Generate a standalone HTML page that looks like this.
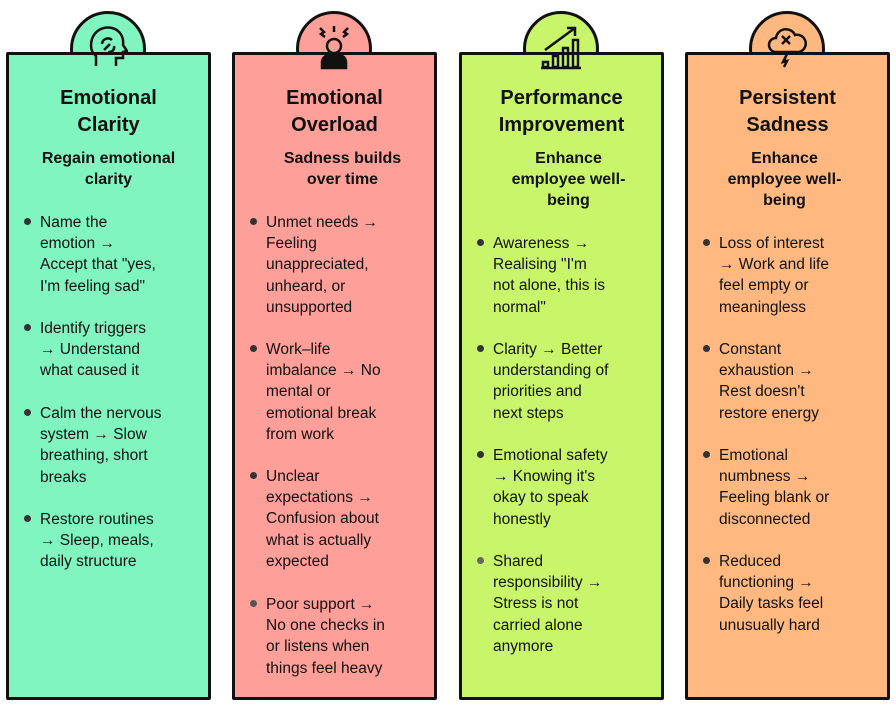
<!DOCTYPE html>
<html><head><meta charset="utf-8"><style>
body{margin:0;width:896px;height:711px;background:#fff;position:relative;overflow:hidden;font-family:"Liberation Sans",sans-serif;color:#111}
.card{position:absolute;top:52px;width:205px;height:648px;border:3px solid #111;box-sizing:border-box;border-radius:2px}
.tab{position:absolute;top:11px;width:76px;height:76px;border:3px solid #111;border-radius:50%;box-sizing:border-box}
.cov{position:absolute;top:55px;width:70px;height:14px}
.t{position:absolute;width:205px;text-align:center;font-weight:bold;font-size:20px;line-height:27px;top:85px}
.s{position:absolute;width:205px;text-align:center;font-weight:bold;font-size:16px;line-height:21px;top:148px}
.b{position:absolute;font-size:15.5px;line-height:21.2px;white-space:nowrap}
.d{position:absolute;width:7px;height:7px;border-radius:50%;background:#333}
svg.ic{position:absolute;top:24px}
</style></head><body>
<!-- card 1 -->
<div class="tab" style="left:70px;background:#80f5c0"></div>
<div class="card" style="left:6px;background:#80f5c0"></div>
<div class="cov" style="left:73px;background:#80f5c0"></div>
<svg class="ic" style="left:88px" width="40" height="44" viewBox="0 0 40 44" fill="none" stroke="#111" stroke-width="2.5"><path d="M8 42V32C3 28 2 22 4 15 7 6 16 2 24 4c8 2 12 9 11 17l4 6-4 1v6h-7v8"/><path d="M14 20a6 6 0 0 1 10-4M16 26l6-6M26 22a5 5 0 0 1-6 6"/></svg>
<div class="t" style="left:6px">Emotional<br>Clarity</div>
<div class="s" style="left:6px">Regain emotional<br>clarity</div>
<div class="d" style="left:24px;top:218px"></div>
<div class="b" style="left:40px;top:212px">Name the<br>emotion →<br>Accept that "yes,<br>I'm feeling sad"</div>
<div class="d" style="left:24px;top:324px"></div>
<div class="b" style="left:40px;top:318px">Identify triggers<br>→ Understand<br>what caused it</div>
<div class="d" style="left:24px;top:409px"></div>
<div class="b" style="left:40px;top:403px">Calm the nervous<br>system → Slow<br>breathing, short<br>breaks</div>
<div class="d" style="left:24px;top:515px"></div>
<div class="b" style="left:40px;top:509px">Restore routines<br>→ Sleep, meals,<br>daily structure</div>
<!-- card 2 -->
<div class="tab" style="left:296px;background:#ff9f9a"></div>
<div class="card" style="left:232px;background:#ff9f9a"></div>
<div class="cov" style="left:299px;background:#ff9f9a"></div>
<svg class="ic" style="left:314px" width="40" height="46" viewBox="0 0 40 46" fill="none" stroke="#111" stroke-width="2.5"><path d="M6 4l4 4-3 2 4 3M34 4l-4 4 3 2-4 3M20 2v6"/><circle cx="20" cy="22" r="7"/><path d="M8 44v-6c0-5 5-8 12-8s12 3 12 8v6z" fill="#111"/></svg>
<div class="t" style="left:232px">Emotional<br>Overload</div>
<div class="s" style="left:240px">Sadness builds<br>over time</div>
<div class="d" style="left:250px;top:218px"></div>
<div class="b" style="left:266px;top:212px">Unmet needs →<br>Feeling<br>unappreciated,<br>unheard, or<br>unsupported</div>
<div class="d" style="left:250px;top:345px"></div>
<div class="b" style="left:266px;top:339px">Work–life<br>imbalance → No<br>mental or<br>emotional break<br>from work</div>
<div class="d" style="left:250px;top:472px"></div>
<div class="b" style="left:266px;top:466px">Unclear<br>expectations →<br>Confusion about<br>what is actually<br>expected</div>
<div class="d" style="left:250px;top:600px;background:#555"></div>
<div class="b" style="left:266px;top:594px">Poor support →<br>No one checks in<br>or listens when<br>things feel heavy</div>
<!-- card 3 -->
<div class="tab" style="left:523px;background:#c8f56a"></div>
<div class="card" style="left:459px;background:#c8f56a"></div>
<div class="cov" style="left:526px;background:#c8f56a"></div>
<svg class="ic" style="left:539px" width="44" height="46" viewBox="0 0 44 46" fill="none" stroke="#111" stroke-width="2.5"><path d="M6 26L36 4M28 4h8v8"/><rect x="4" y="38" width="5" height="5"/><rect x="14" y="32" width="5" height="11"/><rect x="24" y="24" width="5" height="19"/><rect x="34" y="16" width="5" height="27"/><path d="M2 44h40"/></svg>
<div class="t" style="left:459px">Performance<br>Improvement</div>
<div class="s" style="left:466px">Enhance<br>employee well-<br>being</div>
<div class="d" style="left:477px;top:239px"></div>
<div class="b" style="left:493px;top:233px">Awareness →<br>Realising "I'm<br>not alone, this is<br>normal"</div>
<div class="d" style="left:477px;top:345px"></div>
<div class="b" style="left:493px;top:339px">Clarity → Better<br>understanding of<br>priorities and<br>next steps</div>
<div class="d" style="left:477px;top:451px"></div>
<div class="b" style="left:493px;top:445px">Emotional safety<br>→ Knowing it's<br>okay to speak<br>honestly</div>
<div class="d" style="left:477px;top:557px;background:#666"></div>
<div class="b" style="left:493px;top:551px">Shared<br>responsibility →<br>Stress is not<br>carried alone<br>anymore</div>
<!-- card 4 -->
<div class="tab" style="left:749px;background:#ffb880"></div>
<div class="card" style="left:685px;background:#ffb880"></div>
<div class="cov" style="left:752px;background:#ffb880"></div>
<svg class="ic" style="left:766px" width="42" height="44" viewBox="0 0 42 44" fill="none" stroke="#111" stroke-width="2.5"><path d="M10 28a7 7 0 0 1 0-14 10 10 0 0 1 19-3 8 8 0 0 1 4 17z"/><path d="M16 12l8 8M24 12l-8 8"/><path d="M22 28l-5 10 4-1-3 6" fill="#111"/></svg>
<div class="t" style="left:685px">Persistent<br>Sadness</div>
<div class="s" style="left:682px">Enhance<br>employee well-<br>being</div>
<div class="d" style="left:703px;top:239px"></div>
<div class="b" style="left:719px;top:233px">Loss of interest<br>→ Work and life<br>feel empty or<br>meaningless</div>
<div class="d" style="left:703px;top:345px"></div>
<div class="b" style="left:719px;top:339px">Constant<br>exhaustion →<br>Rest doesn't<br>restore energy</div>
<div class="d" style="left:703px;top:451px"></div>
<div class="b" style="left:719px;top:445px">Emotional<br>numbness →<br>Feeling blank or<br>disconnected</div>
<div class="d" style="left:703px;top:557px"></div>
<div class="b" style="left:719px;top:551px">Reduced<br>functioning →<br>Daily tasks feel<br>unusually hard</div>
</body></html>
